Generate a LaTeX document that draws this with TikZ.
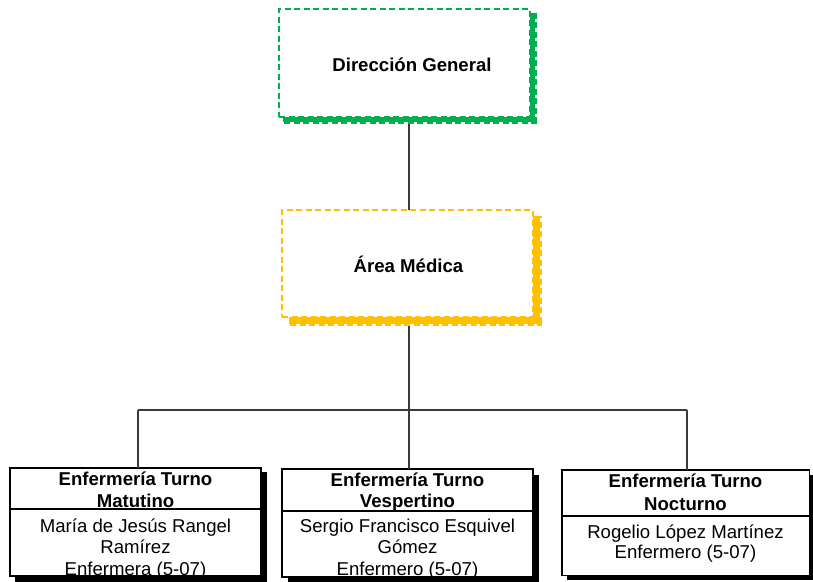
\documentclass[tikz,border=0pt]{standalone}
\usepackage{fontspec}
\setmainfont{Liberation Sans}
\definecolor{dggreen}{HTML}{00B050}
\definecolor{amgold}{HTML}{FFC000}
\definecolor{linkgray}{HTML}{3A3A3A}
\begin{document}
\begin{tikzpicture}[x=1pt,y=-1pt,
  every node/.style={inner sep=0pt, outer sep=0pt},
  unitbox/.style={rectangle, draw=#1, fill=white, line width=1.2pt,
    dash pattern=on 6pt off 3.5pt, anchor=north west},
  nursebox/.style={rectangle, draw=black, fill=white, line width=1.4pt, anchor=north west},
  core/.style={draw=#1, line cap=butt, line join=miter},
  wavy/.style={draw=#1, dash pattern=on 6pt off 3.5pt, line join=miter},
  link/.style={draw=linkgray, line width=1.2pt},
  divider/.style={draw=black, line width=1.4pt},
  hdr/.style={font=\fontsize{18.6}{21}\selectfont\bfseries, anchor=base},
  body/.style={font=\fontsize{18.6}{21}\selectfont, anchor=base},
]
\useasboundingbox (0,0) rectangle (813,581);
\fill[white] (0,0) rectangle (813,581);

% boxes
\node[unitbox=dggreen, minimum width=251pt, minimum height=108pt] (dg) at (279,9) {};
\node[unitbox=amgold, minimum width=251pt, minimum height=107pt] (am) at (282,210) {};
\node[nursebox, minimum width=251pt, minimum height=108pt] (t1) at (10,468) {};
\node[nursebox, minimum width=251pt, minimum height=108pt] (t2) at (282,469) {};
\node[nursebox, minimum width=247.5pt, minimum height=105.5pt] (t3) at (562,470) {};

% connectors
\coordinate (bus) at (409,410);
\coordinate (b1) at (138,410);
\coordinate (b3) at (687,410);
\draw[link] (dg.south -| bus) -- (am.north -| bus);
\draw[link] (am.south -| bus) -- (bus);
\draw[link] (b1) -- (b3);
\draw[link] (b1) -- (b1 |- t1.north);
\draw[link] (bus) -- (bus |- t2.north);
\draw[link] (b3) -- (b3 |- t3.north);

% shadows of the upper boxes (solid core with a dashed, ragged outer edge)
\draw[core=dggreen, line width=4.5pt] (283,119.55) -- (532.55,119.55) -- (532.55,13);
\draw[wavy=dggreen, line width=6.5pt] (284,120.55) -- (533.55,120.55) -- (533.55,13);
\draw[core=amgold, line width=6.5pt] (289,320.55) -- (536.55,320.55) -- (536.55,216);
\draw[wavy=amgold, line width=9pt] (290,321.8) -- (537.8,321.8) -- (537.8,216);

% shadows of the lower boxes
\draw[core=black, line width=5.5pt] (15,579.05) -- (264.05,579.05) -- (264.05,472);
\draw[core=black, line width=5.5pt] (288,579.8) -- (536.3,579.8) -- (536.3,475);
\draw[core=black, line width=4pt] (567,577.8) -- (811.8,577.8) -- (811.8,475);

% titles of the upper boxes
\node[hdr] (dgt) at (412,71) {Dirección General};
\node[hdr] (amt) at (408.5,272) {Área Médica};

% morning shift
\begin{scope}
  \clip (11,469) rectangle (260,508.3);
  \node[hdr] (t1a) at (135.5,485) {Enfermería Turno};
  \node[hdr] (t1b) at (135.5,507) {Matutino};
\end{scope}
\begin{scope}
  \clip (11,509.7) rectangle (260,575.3);
  \node[body] (t1c) at (135.5,532) {María de Jesús Rangel};
  \node[body] (t1d) at (135.5,553) {Ramírez};
  \node[body] (t1e) at (135.5,575) {Enfermera (5-07)};
\end{scope}
\draw[divider] (t1.west |- 0,509) -- (t1.east |- 0,509);

% evening shift
\begin{scope}
  \clip (283,470) rectangle (532,510.3);
  \node[hdr] (t2a) at (407.5,486) {Enfermería Turno};
  \node[hdr] (t2b) at (407.5,507) {Vespertino};
\end{scope}
\begin{scope}
  \clip (283,511.7) rectangle (532,576.3);
  \node[body] (t2c) at (407.5,532) {Sergio Francisco Esquivel};
  \node[body] (t2d) at (407.5,553) {Gómez};
  \node[body] (t2e) at (407.5,575) {Enfermero (5-07)};
\end{scope}
\draw[divider] (t2.west |- 0,511) -- (t2.east |- 0,511);

% night shift
\node[hdr] (t3a) at (685.5,487) {Enfermería Turno};
\node[hdr] (t3b) at (685.5,510) {Nocturno};
\draw[divider] (t3.west |- 0,516) -- (t3.east |- 0,516);
\node[body] (t3c) at (685.5,538) {Rogelio López Martínez};
\node[body] (t3d) at (685.5,558) {Enfermero (5-07)};
\end{tikzpicture}
\end{document}
